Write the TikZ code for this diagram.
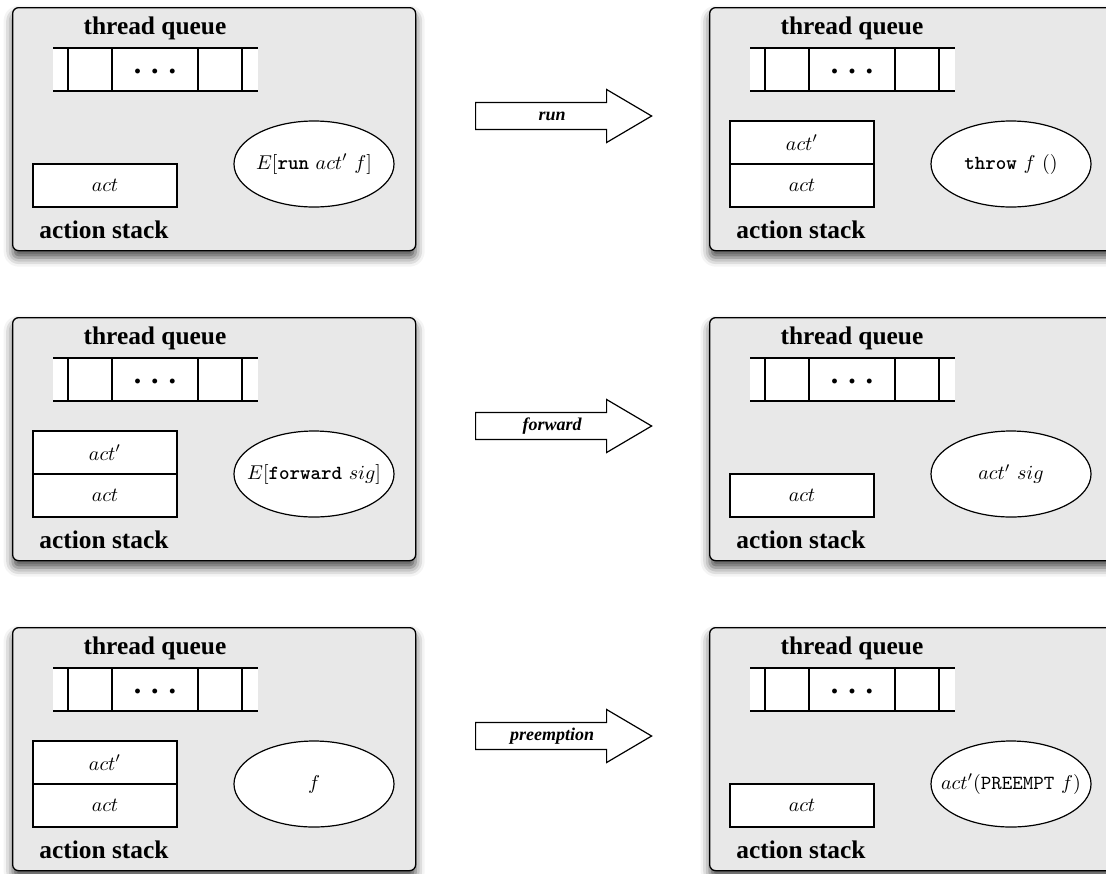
\documentclass[tikz,border=0pt]{standalone}
\usepackage{fontspec}
\newfontfamily\timesfont{Liberation Serif}
\newfontfamily\kwfont{lmmonolt10-bold}[Extension=.otf]
\newcommand{\kw}[1]{\mbox{\kwfont #1}}
\usepackage{tikz}
\usetikzlibrary{shapes.geometric, shapes.arrows, positioning, shadows.blur}
\definecolor{panelgray}{RGB}{232, 232, 232}

\begin{document}
\begin{tikzpicture}[x=0.5pt, y=-0.5pt]
  % Styles
  \tikzstyle{panel} = [rectangle, rounded corners=3pt, draw, line width=0.65pt, fill=panelgray, minimum width=201.5pt, minimum height=121.5pt, anchor=north west, blur shadow={shadow xshift=0pt, shadow yshift=-3.5pt, shadow blur radius=4.5pt, shadow opacity=70}]
  \tikzstyle{title} = [font=\timesfont\bfseries\fontsize{12.7}{15}\selectfont, inner sep=0pt]
  \tikzstyle{dots} = [font=\timesfont\bfseries\fontsize{15}{18}\selectfont, inner sep=0pt]
  \tikzstyle{cell} = [rectangle, draw, fill=white, line width=0.6pt, minimum width=72pt, minimum height=21.5pt, inner sep=0pt]
  \tikzstyle{proc} = [ellipse, draw, fill=white, line width=0.6pt, minimum width=80pt, minimum height=43pt, inner sep=0pt]
  \tikzstyle{trans} = [single arrow, draw, fill=white, line width=0.6pt, minimum height=88pt, single arrow head extend=6.5pt, single arrow tip angle=61, inner ysep=2.2pt, text height=6.5pt, text depth=2pt, anchor=tail, font=\timesfont\bfseries\itshape\small]

  \useasboundingbox (0,0) rectangle (1106,873);

  % Panels: thread queue and action stack
  \foreach \i/\ox/\oy in {1/12/7, 2/709/7, 3/12/317, 4/709/317, 5/12/627, 6/709/627} {
    \begin{scope}[shift={(\ox,\oy)}]
      \node[panel] (box\i) at (0,0) {};
      \node[title] (tq\i) at (143,21) {thread queue};
      \fill[white] (41,41) rectangle (246,84);
      \draw[line width=1.3pt] (41,41) -- (246,41) (41,84) -- (246,84);
      \foreach \x in {56,100,186,230}
        \draw[line width=0.7pt] (\x,41) -- (\x,84);
      \node[dots] (dots\i) at (143,64) {. . .};
      \node[title] (as\i) at (92,223) {action stack};
    \end{scope}
  }

  % run
  \node[cell] (s1a) at (105,185.5) {$act$};
  \node[proc] (e1) at (314,164) {};
  \node (e1t) at (e1) {$E[\kw{run}\ act'\ f]$};
  \node[trans] (run) at (475,116) {run};
  \node[cell] (s2a) at (802,185.5) {$act$};
  \node[cell, above=-0.6pt of s2a] (s2b) {$act'$};
  \node[proc] (e2) at (1011,164) {};
  \node (e2t) at (e2) {\kw{throw} $f$ $()$};

  % forward
  \node[cell] (s3a) at (105,495.5) {$act$};
  \node[cell, above=-0.6pt of s3a] (s3b) {$act'$};
  \node[proc] (e3) at (314,474) {};
  \node (e3t) at (e3) {$E[\kw{forward}\ sig]$};
  \node[trans] (fwd) at (475,426) {forward};
  \node[cell] (s4a) at (802,495.5) {$act$};
  \node[proc] (e4) at (1011,474) {};
  \node (e4t) at (e4) {$act'\ sig$};

  % preemption
  \node[cell] (s5a) at (105,805.5) {$act$};
  \node[cell, above=-0.6pt of s5a] (s5b) {$act'$};
  \node[proc] (e5) at (314,784) {};
  \node (e5t) at (e5) {$f$};
  \node[trans] (pre) at (475,736) {preemption};
  \node[cell] (s6a) at (802,805.5) {$act$};
  \node[proc] (e6) at (1011,784) {};
  \node (e6t) at (e6) {$act'(\texttt{PREEMPT}\ f)$};
\end{tikzpicture}
\end{document}
